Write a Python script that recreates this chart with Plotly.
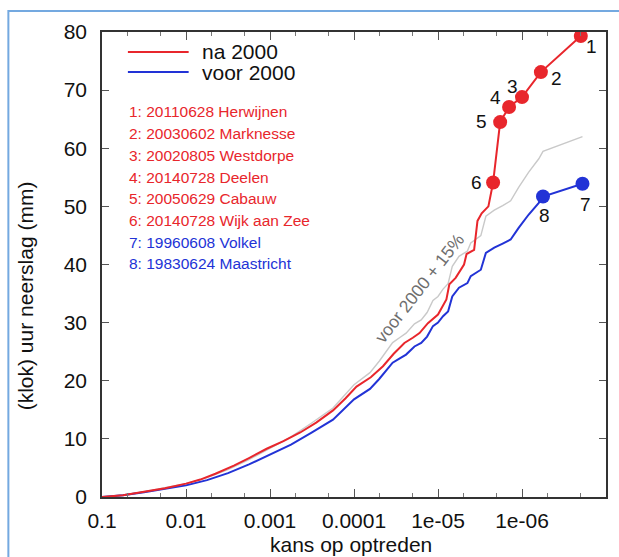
import plotly.graph_objects as go

# ---------------- data ----------------
# log10 of "kans op optreden" (probability) and hourly precipitation (mm)
voor_log_kans = [-1.0, -1.25, -1.5, -1.75, -2.0, -2.25, -2.5, -2.75, -3.0, -3.25, -3.5, -3.75,
                 -4.0, -4.19, -4.3, -4.46, -4.55, -4.62, -4.72, -4.80, -4.87, -4.94, -5.0, -5.06,
                 -5.12, -5.17, -5.25, -5.35, -5.39, -5.47, -5.51, -5.57, -5.67, -5.77, -5.865,
                 -5.96, -6.08, -6.20, -6.25, -6.72]
voor_mm = [0.0, 0.3, 0.8, 1.4, 2.0, 2.9, 4.1, 5.6, 7.3, 9.0, 11.1, 13.3,
           16.8, 18.6, 20.3, 23.1, 23.9, 24.5, 25.9, 26.5, 27.6, 29.4, 30.0, 31.1,
           31.9, 34.5, 36.0, 36.8, 38.0, 38.8, 39.1, 42.0, 42.9, 43.6, 44.3,
           46.3, 48.6, 50.6, 51.7, 53.9]
voor_plus15_mm = [0.0, 0.35, 0.92, 1.61, 2.3, 3.34, 4.72, 6.44, 8.4, 10.35, 12.77, 15.3,
                  19.32, 21.39, 23.35, 26.57, 27.49, 28.18, 29.79, 30.48, 31.74, 33.81, 34.5, 35.77,
                  36.69, 39.68, 41.4, 42.32, 43.7, 44.62, 44.97, 48.3, 49.34, 50.14, 50.95,
                  53.25, 55.89, 58.19, 59.46, 61.99]

na_log_kans = [-1.0, -1.25, -1.5, -1.75, -2.0, -2.17, -2.35, -2.57, -2.75, -2.96, -3.16, -3.36,
               -3.55, -3.75, -3.9, -4.03, -4.2, -4.345, -4.47, -4.6, -4.7, -4.78, -4.88, -5.0,
               -5.1, -5.135, -5.21, -5.31, -5.34, -5.43, -5.47, -5.52, -5.6, -5.656, -5.74,
               -5.846, -6.0, -6.225, -6.70]
na_mm = [0.0, 0.3, 0.9, 1.5, 2.3, 3.0, 4.0, 5.4, 6.7, 8.3, 9.6, 11.1,
         12.8, 14.9, 17.0, 19.0, 20.6, 22.5, 24.6, 26.5, 27.4, 28.2, 29.9, 31.4,
         34.0, 36.6, 37.7, 40.0, 41.8, 42.5, 47.5, 48.8, 50.0, 54.1, 64.5,
         67.1, 68.8, 73.1, 79.3]

event_nr = ["1", "2", "3", "4", "5", "6", "7", "8"]
event_log_kans = [-6.70, -6.225, -6.0, -5.846, -5.74, -5.656, -6.72, -6.25]
event_mm = [79.3, 73.1, 68.8, 67.1, 64.5, 54.1, 53.9, 51.7]
event_text = ["1: 20110628 Herwijnen", "2: 20030602 Marknesse", "3: 20020805 Westdorpe",
              "4: 20140728 Deelen", "5: 20050629 Cabauw", "6: 20140728 Wijk aan Zee",
              "7: 19960608 Volkel", "8: 19830624 Maastricht"]
event_periode = ["na", "na", "na", "na", "na", "na", "voor", "voor"]

x_tickvals = [0.1, 0.01, 0.001, 0.0001, 1e-05, 1e-06]
x_ticktext = ["0.1", "0.01", "0.001", "0.0001", "1e-05", "1e-06"]

# ---------------- style ----------------
RED = "#e8262c"
BLUE = "#2233d6"
GRAY = "#c9c9c9"
FONT = "Liberation Sans, Arial, Helvetica, sans-serif"
W, H = 619, 557
L, R, T, B = 102, 11, 32, 60
PW, PH = W - L - R, H - T - B


def px(xp):
    return (xp - L) / PW


def py(yp):
    return (H - B - yp) / PH


def to_kans(lst):
    return [10 ** v for v in lst]


fig = go.Figure()
fig.add_trace(go.Scatter(x=to_kans(voor_log_kans), y=voor_plus15_mm, mode="lines",
                         line=dict(color=GRAY, width=1.4), name="voor 2000 + 15%",
                         showlegend=False, hoverinfo="skip"))
fig.add_trace(go.Scatter(x=to_kans(voor_log_kans), y=voor_mm, mode="lines",
                         line=dict(color=BLUE, width=2), name="voor 2000", showlegend=False))
fig.add_trace(go.Scatter(x=to_kans(na_log_kans), y=na_mm, mode="lines",
                         line=dict(color=RED, width=2), name="na 2000", showlegend=False))
fig.add_trace(go.Scatter(x=to_kans(event_log_kans), y=event_mm, mode="markers",
                         marker=dict(size=14, color=[RED if p == "na" else BLUE for p in event_periode]),
                         text=event_text, showlegend=False))

# point number labels
offsets = {"1": (11, -10), "2": (16, -6), "3": (-10, 11), "4": (-14, 9),
           "5": (-19, 1), "6": (-17, 0), "7": (3, -21), "8": (1, -19)}
for nr, lk, v in zip(event_nr, event_log_kans, event_mm):
    dx, dy = offsets[nr]
    fig.add_annotation(x=lk, y=v, xref="x", yref="y", text=nr, showarrow=False,
                       xanchor="center", yanchor="middle",
                       xshift=dx, yshift=dy, font=dict(size=19, color="#111111", family=FONT))

# event list
for i, (t, p) in enumerate(zip(event_text, event_periode)):
    fig.add_annotation(x=px(127), y=py(112 + i * 21.7), xref="paper", yref="paper",
                       text=t, showarrow=False, xanchor="left", yanchor="middle",
                       font=dict(size=15.5, color=RED if p == "na" else BLUE, family=FONT))

# manual legend
for yy, col, lab in [(52, RED, "na 2000"), (72, BLUE, "voor 2000")]:
    fig.add_shape(type="line", xref="paper", yref="paper", x0=px(128), x1=px(189),
                  y0=py(yy), y1=py(yy), line=dict(color=col, width=2))
    fig.add_annotation(x=px(200), y=py(yy), xref="paper", yref="paper", text=lab,
                       showarrow=False, xanchor="left", yanchor="middle",
                       font=dict(size=21, color="#111111", family=FONT))

# gray curve label
fig.add_annotation(x=px(421), y=py(288), xref="paper", yref="paper", text="voor 2000 + 15%",
                   showarrow=False, textangle=-52, xanchor="center", yanchor="middle",
                   font=dict(size=17.5, color="#6e6e6e", family=FONT))

# axis titles
fig.add_annotation(x=px(25), y=py(296), xref="paper", yref="paper", text="(klok) uur neerslag (mm)",
                   showarrow=False, textangle=-90, xanchor="center", yanchor="middle",
                   font=dict(size=21, color="#111111", family=FONT))
fig.add_annotation(x=px(352), y=py(544), xref="paper", yref="paper", text="kans op optreden",
                   showarrow=False, xanchor="center", yanchor="middle",
                   font=dict(size=21, color="#111111", family=FONT))

# outer light-blue frame
fig.add_shape(type="rect", xref="paper", yref="paper", x0=px(8), x1=px(640), y0=py(11), y1=py(600),
              line=dict(color="#74a9e0", width=2), layer="below")

fig.update_xaxes(type="log", range=[-1, -7], tickvals=x_tickvals, ticktext=x_ticktext,
                 ticks="inside", ticklen=8, tickwidth=1, tickcolor="#555",
                 minor=dict(ticks="inside", ticklen=4, dtick="D2", tickcolor="#777", showgrid=False),
                 showline=True, linecolor="#333", linewidth=1.5, mirror="allticks",
                 showgrid=False, zeroline=False, ticklabelstandoff=4,
                 tickfont=dict(size=21, color="#111111", family=FONT))
fig.update_yaxes(range=[0, 80], dtick=10, ticks="inside", ticklen=7, tickwidth=1, tickcolor="#555",
                 showline=True, linecolor="#333", linewidth=1.5, mirror="allticks",
                 showgrid=False, zeroline=False, ticklabelstandoff=9,
                 tickfont=dict(size=21, color="#111111", family=FONT))

fig.update_layout(width=W, height=H, margin=dict(l=L, r=R, t=T, b=B),
                  paper_bgcolor="white", plot_bgcolor="white",
                  font=dict(family=FONT), showlegend=False)

fig.write_html("out.html", config={"displayModeBar": False},
               post_script="document.body.style.margin='0px';document.body.style.overflow='hidden';")
